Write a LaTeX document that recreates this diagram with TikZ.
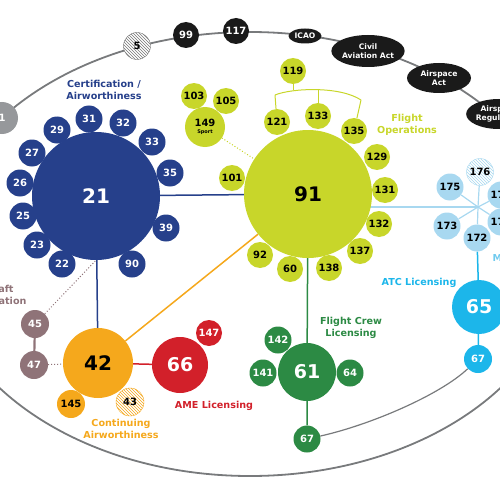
\documentclass[tikz,border=0pt]{standalone}
\usepackage{fontspec}
\setmainfont{DejaVu Sans}
\usetikzlibrary{shapes,positioning,backgrounds,patterns}
\definecolor{navycol}{RGB}{38,64,139}
\definecolor{limecol}{RGB}{200,214,42}
\definecolor{skycol}{RGB}{168,216,240}
\definecolor{atccol}{RGB}{28,182,234}
\definecolor{greencol}{RGB}{44,138,68}
\definecolor{orangecol}{RGB}{245,168,28}
\definecolor{redcol}{RGB}{210,32,42}
\definecolor{mauvecol}{RGB}{143,115,120}
\definecolor{greycol}{RGB}{150,152,155}
\definecolor{darkcol}{RGB}{26,26,26}

\begin{document}
\begin{tikzpicture}[
  x=1pt, y=-1pt,
  bub/.style={
    circle,
    inner sep=0pt,
    minimum size=#1,
    font=\fontsize{10}{10}\selectfont\bfseries
  },
  nav/.style={bub=27pt, fill=navycol, text=white},
  lime/.style={bub=26pt, fill=limecol, text=black},
  sky/.style={bub=27pt, fill=skycol, text=black},
  grn/.style={bub=27pt, fill=greencol, text=white},
  blk/.style={bub=26pt, fill=darkcol, text=white},
  hatch/.style={
    bub=27pt,
    preaction={fill=white},
    pattern=north west lines,
    pattern color=#1,
    draw=#1,
    line width=.4pt
  },
  oval/.style={
    ellipse,
    fill=darkcol,
    text=white,
    inner sep=0pt,
    align=center,
    font=\fontsize{7.6}{8.8}\selectfont\bfseries
  },
  big/.style={font=\fontsize{20}{20}\selectfont\bfseries},
  mid/.style={font=\fontsize{19}{19}\selectfont\bfseries},
  tag/.style={align=center, text=#1, font=\fontsize{9.6}{12}\selectfont\bfseries},
  link/.style={draw=#1, line width=1.5pt},
  dotlink/.style={draw=#1, dotted, line width=1pt},
  spoke/.style={draw=skycol, line width=1.2pt},
  rim/.style={draw=greycol!80!black, line width=1.8pt}
]
\useasboundingbox (0,0) rectangle (500,500);

% -------- Top ring --------
\node[hatch=darkcol!60, text=black] (n5) at (137,46) {5};
\node[blk] (n99) at (186,35) {99};
\node[blk] (n117) at (236,31) {117};
\node[oval, minimum width=33pt, minimum height=15pt] (icao) at (305,36) {ICAO};
\node[oval, minimum width=65pt, minimum height=32pt] (caa) at (368,51) {Civil\\Aviation Act};
\node[oval, minimum width=64pt, minimum height=30pt] (asa) at (439,78) {Airspace\\Act};
\node[oval, minimum width=64pt, minimum height=30pt] (asr) at (499,114) {Airspace\\Regulation};
\node[bub=32pt, fill=greycol, text=white] (n1) at (2,118) {1};

% -------- Certification / Airworthiness --------
\node[bub=128pt, fill=navycol, text=white, big] (n21) at (96,196) {21};
\node[nav] (n31) at (89,119) {31};
\node[nav] (n32) at (123,123) {32};
\node[nav] (n33) at (152,142) {33};
\node[nav] (n35) at (170,173) {35};
\node[nav] (n39) at (166,228) {39};
\node[nav] (n90) at (132,264) {90};
\node[nav] (n22) at (62,264) {22};
\node[nav] (n23) at (37,245) {23};
\node[nav] (n25) at (23,216) {25};
\node[nav] (n26) at (20,183) {26};
\node[nav] (n27) at (32,153) {27};
\node[nav] (n29) at (57,130) {29};
\node[tag=navycol] (certtag) at (104,90) {Certification /\\Airworthiness};

% -------- Flight Operations --------
\node[bub=128pt, fill=limecol, text=black, big] (n91) at (308,194) {91};
\node[lime] (n119) at (293,71) {119};
\node[lime] (n121) at (277,122) {121};
\node[lime] (n133) at (318,116) {133};
\node[lime] (n135) at (354,131) {135};
\node[lime] (n129) at (377,157) {129};
\node[lime] (n131) at (385,190) {131};
\node[lime] (n132) at (379,224) {132};
\node[lime] (n137) at (360,251) {137};
\node[lime] (n138) at (329,268) {138};
\node[lime] (n60) at (290,269) {60};
\node[lime] (n92) at (260,255) {92};
\node[lime] (n101) at (232,178) {101};
\node[lime] (n103) at (194,96) {103};
\node[lime] (n105) at (226,101) {105};
\node[bub=40pt, fill=limecol, text=black, align=center] (n149) at (205,127)
  {149\\[-3pt]{\fontsize{5}{5}\selectfont Sport}};
\node[tag=limecol] (opstag) at (407,125) {Flight\\Operations};
\coordinate (brL) at (275,95);
\coordinate (brM) at (318,89);
\coordinate (brR) at (361,100);
\coordinate (brT) at (293,90);

% -------- ATC / airspace star --------
\coordinate (hub) at (478,207);
\node[hatch=skycol, text=black] (n176) at (480,172) {176};
\node[sky] (n175) at (450,187) {175};
\node[sky] (n173) at (447,226) {173};
\node[sky] (n172) at (477,238) {172};
\node[sky] (n174) at (501,195) {174};
\node[sky] (n171) at (501,222) {171};
\node[tag=skycol!60!atccol, anchor=west] (mtag) at (489,258) {M};
\node[bub=54pt, fill=atccol, text=white, mid] (n65) at (479,307) {65};
\node[bub=28pt, fill=atccol, text=white] (n67a) at (478,359) {67};
\node[tag=atccol] (atctag) at (419,283) {ATC Licensing};

% -------- Flight Crew Licensing --------
\node[bub=58pt, fill=greencol, text=white, mid] (n61) at (307,372) {61};
\node[grn] (n142) at (278,340) {142};
\node[grn] (n141) at (263,373) {141};
\node[grn] (n64) at (350,373) {64};
\node[grn] (n67g) at (307,439) {67};
\node[tag=greencol] (fcltag) at (351,328) {Flight Crew\\Licensing};

% -------- Continuing Airworthiness / AME --------
\node[bub=70pt, fill=orangecol, text=black, big] (n42) at (98,363) {42};
\node[bub=28pt, fill=orangecol, text=black] (n145) at (71,404) {145};
\node[hatch=orangecol, bub=28pt, text=black] (n43) at (130,402) {43};
\node[tag=orangecol] (catag) at (121,429) {Continuing\\Airworthiness};
\node[bub=56pt, fill=redcol, text=white, mid] (n66) at (180,365) {66};
\node[bub=26pt, fill=redcol, text=white] (n147) at (209,333) {147};
\node[tag=redcol] (ametag) at (214,406) {AME Licensing};

% -------- Aircraft Registration --------
\node[bub=28pt, fill=mauvecol, text=white] (n45) at (35,324) {45};
\node[bub=28pt, fill=mauvecol, text=white] (n47) at (34,365) {47};
\node[tag=mauvecol] (regtag) at (-7,296) {Aircraft\\Registration};

% -------- Connectors --------
\begin{scope}[on background layer]
\clip (0,0) rectangle (500,500);
\draw[rim] (250,254) ellipse [x radius=314pt, y radius=222pt];
\draw[draw=greycol!80!black, line width=1.2pt] (n67g) .. controls (370,425) and (440,395) .. (n67a);
\draw[link=navycol] (n21) -- (n91);
\draw[link=navycol] (n21) -- (n42);
\draw[link=orangecol] (n42) -- (n91);
\draw[link=redcol] (n42) -- (n66);
\draw[link=greencol] (n91) -- (n61) -- (n67g);
\draw[link=skycol] ([xshift=-6pt]n91.east |- hub) -- (hub);
\foreach \s in {n176,n175,n173,n172,n174,n171}
  \draw[spoke] (hub) -- (\s);
\draw[link=atccol] (n172) -- (n65) -- (n67a);
\draw[link=mauvecol, line width=2.2pt] (n45) -- (n47);
\draw[dotlink=mauvecol] (n47) -- (n42);
\draw[dotlink=mauvecol] (n45) -- (n21.south);
\draw[dotlink=limecol] (n149) -- (n91);
\draw[draw=limecol, line width=1pt] (brL) .. controls (292,88) and (340,86) .. (brR);
\draw[draw=limecol, line width=1pt] (n119) -- (brT);
\draw[draw=limecol, line width=1pt] (brL) -- (n121);
\draw[draw=limecol, line width=1pt] (brM) -- (n133);
\draw[draw=limecol, line width=1pt] (brR) -- (n135);
\end{scope}

\end{tikzpicture}
\end{document}
